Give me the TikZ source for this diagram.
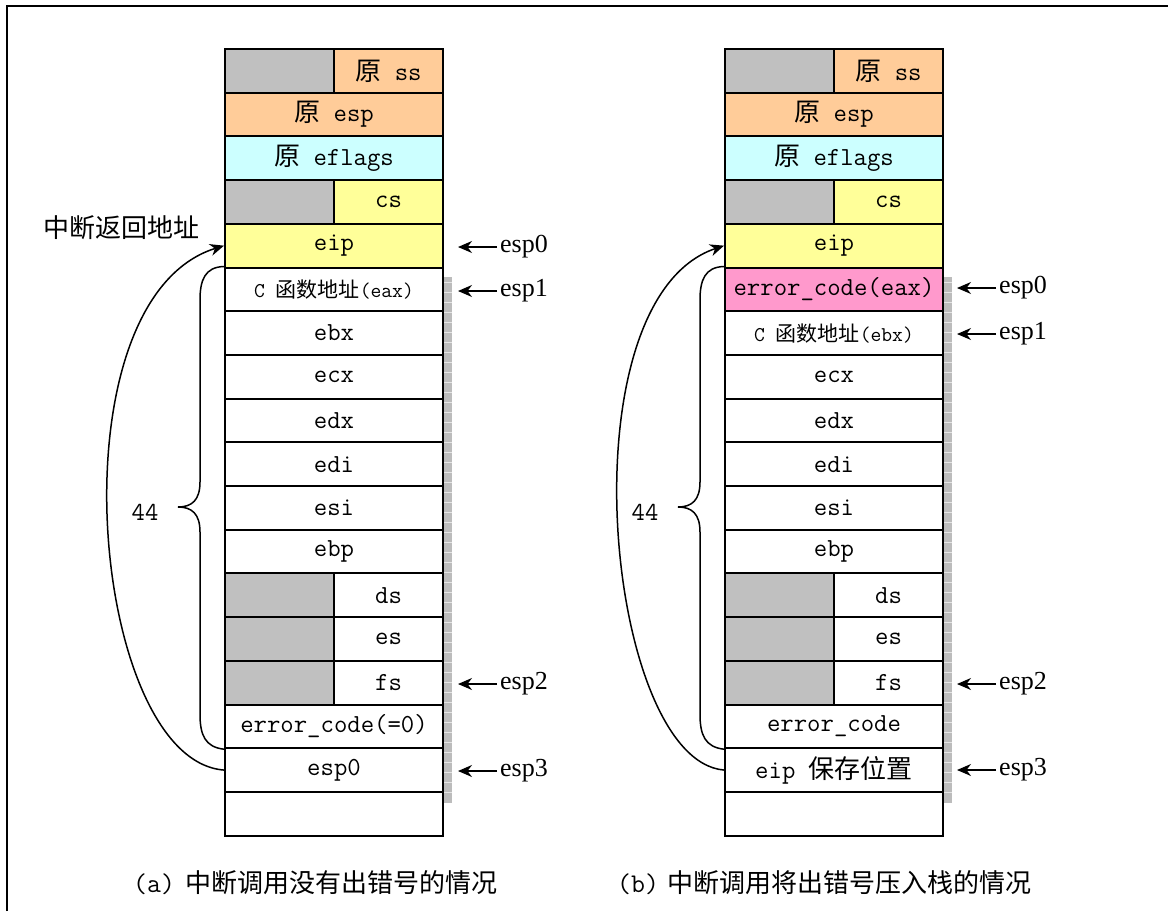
\documentclass[tikz,border=0pt]{standalone}
\usepackage{fontspec}
\setmainfont{Liberation Serif}
\newfontfamily\cjk{Noto Sans CJK SC}
\usetikzlibrary{arrows.meta}
\definecolor{grayc}{RGB}{192,192,192}
\definecolor{orangec}{RGB}{255,204,153}
\definecolor{cyanc}{RGB}{204,255,255}
\definecolor{yellowc}{RGB}{255,255,153}
\definecolor{pinkc}{RGB}{255,153,204}
\definecolor{stripc}{RGB}{188,188,188}
\tikzset{
  cell/.style={draw, line width=2pt, minimum width=218pt, minimum height=43.7pt, inner sep=0pt, anchor=north west, font=\ttfamily\fontsize{26}{26}\selectfont},
  half/.style={cell, minimum width=109pt},
  smalltxt/.style={font=\ttfamily\fontsize{21}{21}\selectfont},
  conn/.style={line width=1.5pt},
  arr/.style={line width=1.5pt, -{Stealth[length=14pt,width=12pt]}},
  esplbl/.style={anchor=west, inner sep=3pt, font=\fontsize{26}{26}\selectfont},
}
\begin{document}
\begin{tikzpicture}[x=1pt,y=-1pt]
\useasboundingbox (0,0) rectangle (1168,911);
% frame
\draw[line width=2.5pt] (7,911) -- (7,6) -- (1168,6);

% strips
\fill[stripc] (443,277) rectangle (452,803);
\foreach \yy in {282,292,...,800} \draw[gray!20, line width=0.5pt] (443,\yy) -- (452,\yy);
\fill[stripc] (943,277) rectangle (952,803);
\foreach \yy in {282,292,...,800} \draw[gray!20, line width=0.5pt] (943,\yy) -- (952,\yy);

% ---------- left stack ----------
\node[half, fill=grayc] (a0g) at (224,48) {};
\node[half, fill=orangec] (a0) at (333,48) {{\cjk 原} ss};
\node[cell, fill=orangec] (a1) at (224,91.7) {{\cjk 原} esp};
\node[cell, fill=cyanc] (a2) at (224,135.4) {{\cjk 原} eflags};
\node[half, fill=grayc] (a3g) at (224,179.1) {};
\node[half, fill=yellowc] (a3) at (333,179.1) {cs};
\node[cell, fill=yellowc] (a4) at (224,222.8) {eip};
\node[cell, fill=white, smalltxt] (a5) at (224,266.5) {C {\cjk 函数地址}(eax)};
\node[cell, fill=white] (a6) at (224,310.2) {ebx};
\node[cell, fill=white] (a7) at (224,353.9) {ecx};
\node[cell, fill=white] (a8) at (224,397.6) {edx};
\node[cell, fill=white] (a9) at (224,441.3) {edi};
\node[cell, fill=white] (a10) at (224,485) {esi};
\node[cell, fill=white] (a11) at (224,528.7) {ebp};
\node[half, fill=grayc] (a12g) at (224,572.4) {};
\node[half, fill=white] (a12) at (333,572.4) {ds};
\node[half, fill=grayc] (a13g) at (224,616.1) {};
\node[half, fill=white] (a13) at (333,616.1) {es};
\node[half, fill=grayc] (a14g) at (224,659.8) {};
\node[half, fill=white] (a14) at (333,659.8) {fs};
\node[cell, fill=white] (a15) at (224,703.5) {error\_code(=0)};
\node[cell, fill=white] (a16) at (224,747.2) {esp0};
\node[cell, fill=white] (a17) at (224,790.9) {};

% ---------- right stack ----------
\node[half, fill=grayc] (b0g) at (724,48) {};
\node[half, fill=orangec] (b0) at (833,48) {{\cjk 原} ss};
\node[cell, fill=orangec] (b1) at (724,91.7) {{\cjk 原} esp};
\node[cell, fill=cyanc] (b2) at (724,135.4) {{\cjk 原} eflags};
\node[half, fill=grayc] (b3g) at (724,179.1) {};
\node[half, fill=yellowc] (b3) at (833,179.1) {cs};
\node[cell, fill=yellowc] (b4) at (724,222.8) {eip};
\node[cell, fill=pinkc] (b5) at (724,266.5) {error\_code(eax)};
\node[cell, fill=white, smalltxt] (b6) at (724,310.2) {C {\cjk 函数地址}(ebx)};
\node[cell, fill=white] (b7) at (724,353.9) {ecx};
\node[cell, fill=white] (b8) at (724,397.6) {edx};
\node[cell, fill=white] (b9) at (724,441.3) {edi};
\node[cell, fill=white] (b10) at (724,485) {esi};
\node[cell, fill=white] (b11) at (724,528.7) {ebp};
\node[half, fill=grayc] (b12g) at (724,572.4) {};
\node[half, fill=white] (b12) at (833,572.4) {ds};
\node[half, fill=grayc] (b13g) at (724,616.1) {};
\node[half, fill=white] (b13) at (833,616.1) {es};
\node[half, fill=grayc] (b14g) at (724,659.8) {};
\node[half, fill=white] (b14) at (833,659.8) {fs};
\node[cell, fill=white] (b15) at (724,703.5) {error\_code};
\node[cell, fill=white] (b16) at (724,747.2) {eip {\cjk 保存位置}};
\node[cell, fill=white] (b17) at (724,790.9) {};

% ---------- esp labels and arrows (left) ----------
\node[esplbl] (la0) at (497,247) {esp0};
\node[esplbl] (la1) at (497,291) {esp1};
\node[esplbl] (la2) at (497,684) {esp2};
\node[esplbl] (la3) at (497,771) {esp3};
\coordinate (ta0) at (458,247);
\coordinate (ta1) at (458,291);
\coordinate (ta2) at (458,684);
\coordinate (ta3) at (458,771);
\draw[arr] (la0.west) -- (ta0);
\draw[arr] (la1.west) -- (ta1);
\draw[arr] (la2.west) -- (ta2);
\draw[arr] (la3.west) -- (ta3);

% ---------- esp labels and arrows (right) ----------
\node[esplbl] (lb0) at (996,288) {esp0};
\node[esplbl] (lb1) at (996,334) {esp1};
\node[esplbl] (lb2) at (996,684) {esp2};
\node[esplbl] (lb3) at (996,770) {esp3};
\coordinate (tb0) at (957,288);
\coordinate (tb1) at (957,334);
\coordinate (tb2) at (957,684);
\coordinate (tb3) at (957,770);
\draw[arr] (lb0.west) -- (tb0);
\draw[arr] (lb1.west) -- (tb1);
\draw[arr] (lb2.west) -- (tb2);
\draw[arr] (lb3.west) -- (tb3);

% ---------- braces ----------
\draw[conn] (a5.north west) .. controls (205,267) and (200,280) .. (200,300) -- (200,482)
  .. controls (200,500) and (192,507) .. (178,507)
  .. controls (192,507) and (200,514) .. (200,532) -- (200,714)
  .. controls (200,735) and (205,747) .. (a15.south west);
\draw[conn] (b5.north west) .. controls (705,267) and (700,280) .. (700,300) -- (700,482)
  .. controls (700,500) and (692,507) .. (678,507)
  .. controls (692,507) and (700,514) .. (700,532) -- (700,714)
  .. controls (700,735) and (705,747) .. (b15.south west);

\node[font=\ttfamily\fontsize{26}{26}\selectfont] (n44a) at (145,512) {44};
\node[font=\ttfamily\fontsize{26}{26}\selectfont] (n44b) at (645,512) {44};

% ---------- return arrows ----------
\draw[arr] (a16.west) .. controls (90,760) and (50,300) .. (a4.west);
\draw[arr] (b16.west) .. controls (605,760) and (562,300) .. (b4.west);

\node[font=\cjk\fontsize{26}{26}\selectfont] (ret) at (121,228) {中断返回地址};

% ---------- captions ----------
\node[anchor=west, inner sep=0pt] (capa) at (133,883) {{\ttfamily\fontsize{27}{27}\selectfont (a)}\hspace{11pt}{\cjk\fontsize{26}{26}\selectfont 中断调用没有出错号的情况}};
\node[anchor=west, inner sep=0pt] (capb) at (617,883) {{\ttfamily\fontsize{27}{27}\selectfont (b)}\hspace{9pt}{\cjk\fontsize{26}{26}\selectfont 中断调用将出错号压入栈的情况}};
\end{tikzpicture}
\end{document}
